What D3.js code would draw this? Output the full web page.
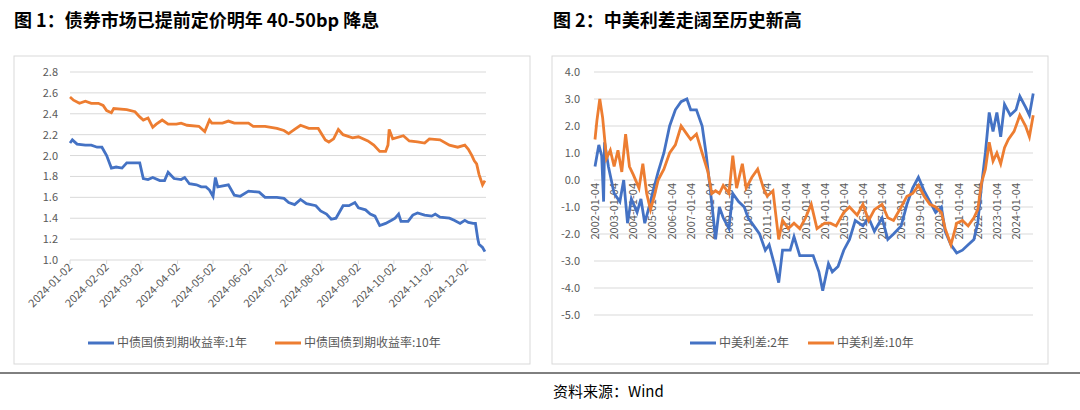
<!DOCTYPE html><html><head><meta charset="utf-8"><script src="https://cdn.jsdelivr.net/npm/d3@7"></script>
<style>body{margin:0;background:#fff}text{font-family:"Noto Sans CJK SC","Noto Sans",sans-serif}</style></head><body>
<svg id="c" width="1080" height="410"></svg>
<script>
const title1="图 1：债券市场已提前定价明年 40-50bp 降息";
const title2="图 2：中美利差走阔至历史新高";
const source="资料来源：Wind";
const leftTicks=["2024-01-02","2024-02-02","2024-03-02","2024-04-02","2024-05-02","2024-06-02","2024-07-02","2024-08-02","2024-09-02","2024-10-02","2024-11-02","2024-12-02"];
const leftY=[1.0,1.2,1.4,1.6,1.8,2.0,2.2,2.4,2.6,2.8];
const y10Dates=["01-02","01-05","01-10","01-15","01-20","01-26","01-30","02-02","02-06","02-08","02-19","02-26","03-01","03-04","03-08","03-12","03-15","03-20","03-25","04-01","04-05","04-10","04-20","04-25","04-29","05-01","05-10","05-15","05-20","06-01","06-05","06-15","06-25","07-01","07-05","07-10","07-15","07-22","07-30","08-05","08-08","08-12","08-16","08-20","08-28","09-02","09-10","09-15","09-20","09-25","09-27","09-28","10-01","10-10","10-15","10-22","10-28","11-01","11-10","11-18","11-25","12-01","12-04","12-07","12-09","12-11","12-13","12-16","12-18"];
const y10Vals=[2.56,2.53,2.50,2.52,2.50,2.50,2.48,2.43,2.41,2.45,2.44,2.42,2.37,2.34,2.36,2.27,2.30,2.34,2.30,2.30,2.31,2.29,2.28,2.23,2.34,2.31,2.31,2.33,2.31,2.31,2.28,2.28,2.26,2.24,2.21,2.25,2.29,2.26,2.26,2.15,2.13,2.16,2.25,2.20,2.17,2.18,2.14,2.10,2.04,2.04,2.10,2.25,2.16,2.19,2.14,2.13,2.12,2.16,2.15,2.10,2.08,2.10,2.06,2.00,1.95,1.92,1.82,1.72,1.76];
const y1Dates=["01-02","01-04","01-08","01-15","01-20","01-25","01-29","02-02","02-06","02-10","02-15","02-19","02-26","03-01","03-04","03-08","03-12","03-18","03-22","03-25","03-30","04-05","04-08","04-12","04-18","04-22","04-26","04-29","05-02","05-04","05-06","05-15","05-20","05-25","06-01","06-10","06-15","06-25","07-01","07-05","07-10","07-15","07-20","07-28","08-01","08-06","08-10","08-14","08-20","08-25","08-30","09-02","09-08","09-12","09-16","09-20","09-25","09-30","10-03","10-06","10-08","10-14","10-18","10-22","10-28","11-03","11-06","11-10","11-18","11-22","11-27","12-01","12-04","12-08","12-10","12-12","12-13","12-16","12-18"];
const y1Vals=[2.12,2.15,2.11,2.10,2.10,2.08,2.08,2.00,1.88,1.89,1.88,1.93,1.93,1.93,1.78,1.77,1.79,1.76,1.76,1.84,1.78,1.77,1.79,1.73,1.72,1.70,1.70,1.67,1.61,1.79,1.70,1.72,1.62,1.61,1.66,1.65,1.60,1.60,1.59,1.55,1.53,1.58,1.54,1.52,1.47,1.44,1.39,1.40,1.52,1.52,1.55,1.50,1.48,1.44,1.42,1.33,1.35,1.38,1.40,1.44,1.37,1.37,1.43,1.45,1.43,1.42,1.44,1.41,1.40,1.38,1.35,1.38,1.36,1.35,1.35,1.20,1.15,1.12,1.08];
const rightY=[-5,-4,-3,-2,-1,0,1,2,3,4];
const rightTickYears=d3.range(2002,2025);
const s2Years=[2002.0,2002.2,2002.35,2002.45,2002.5,2002.7,2003.0,2003.3,2003.5,2003.7,2003.9,2004.2,2004.4,2004.6,2004.9,2005.0,2005.3,2005.6,2005.9,2006.2,2006.5,2006.8,2007.0,2007.3,2007.6,2007.8,2008.0,2008.2,2008.3,2008.5,2008.7,2009.0,2009.2,2009.5,2009.8,2010.0,2010.3,2010.6,2010.9,2011.1,2011.4,2011.6,2011.8,2012.2,2012.4,2012.7,2013.0,2013.4,2013.7,2013.9,2014.2,2014.4,2014.7,2015.0,2015.3,2015.6,2016.0,2016.3,2016.6,2017.0,2017.3,2017.6,2018.0,2018.3,2018.6,2018.9,2019.2,2019.5,2019.8,2020.1,2020.3,2020.6,2020.9,2021.2,2021.5,2021.8,2022.0,2022.2,2022.4,2022.6,2022.8,2023.0,2023.2,2023.4,2023.7,2024.0,2024.2,2024.5,2024.7,2024.9];
const s2Vals=[0.5,1.3,0.9,-0.8,1.4,0.5,-0.5,-0.8,0,-1.6,-0.7,-1.2,-0.7,-1.6,-0.8,-0.5,0.3,1.0,2.0,2.6,2.9,3.0,2.6,2.6,2.0,1.0,-0.2,-1.5,-2.2,-1.0,-1.4,-1.8,-0.5,-0.8,-1.0,-1.4,-1.7,-2.0,-2.6,-2.4,-3.2,-3.8,-2.6,-2.6,-2.1,-2.8,-2.8,-2.8,-3.4,-4.1,-3.1,-3.4,-3.2,-2.6,-2.2,-1.5,-1.7,-1.4,-1.9,-1.4,-2.2,-2.0,-1.7,-0.9,-0.3,0.1,-0.4,-0.8,-1.2,-1.0,-1.9,-2.4,-2.7,-2.6,-2.4,-2.2,-1.6,-0.2,1.0,2.5,1.8,2.5,1.6,2.8,2.4,2.6,3.1,2.7,2.4,3.2];
const s10Years=[2002.0,2002.1,2002.25,2002.4,2002.6,2002.8,2003.0,2003.2,2003.4,2003.6,2003.8,2004.0,2004.3,2004.5,2004.7,2004.9,2005.1,2005.3,2005.6,2005.9,2006.2,2006.5,2006.8,2007.0,2007.3,2007.6,2007.9,2008.1,2008.3,2008.5,2008.7,2009.0,2009.2,2009.4,2009.7,2009.9,2010.2,2010.5,2010.8,2011.0,2011.3,2011.6,2011.8,2012.1,2012.4,2012.7,2013.0,2013.3,2013.6,2014.0,2014.3,2014.6,2015.0,2015.3,2015.7,2016.0,2016.3,2016.6,2017.0,2017.3,2017.6,2018.0,2018.3,2018.6,2018.9,2019.2,2019.5,2019.8,2020.1,2020.3,2020.6,2020.9,2021.2,2021.5,2021.8,2022.0,2022.2,2022.4,2022.6,2022.8,2023.0,2023.2,2023.4,2023.6,2023.9,2024.2,2024.5,2024.7,2024.9];
const s10Vals=[1.5,2.2,3.0,2.3,0.8,1.1,0.5,1.1,0.3,1.7,0.5,0.2,-0.3,0.6,-0.5,-1.1,-0.6,0,0.4,1.0,1.3,2.0,1.7,1.5,1.7,1.0,0.3,-0.5,-0.4,-0.5,-0.2,-0.5,0.9,-0.3,0.6,-0.3,0.1,0.4,-0.3,-0.6,-0.4,-2.2,-1.5,-1.8,-1.6,-1.8,-1.4,-0.9,-1.8,-1.6,-1.6,-1.7,-1.2,-1.0,-1.3,-0.9,-1.5,-1.1,-0.9,-1.4,-1.5,-1.0,-0.6,-0.5,-0.2,-0.6,-0.9,-1.0,-1.2,-1.8,-2.4,-1.6,-1.5,-1.7,-1.4,-1.1,-0.1,0.4,1.4,0.7,1.0,0.6,1.2,1.5,1.8,2.4,2.0,1.6,2.4];
const leg1=["中债国债到期收益率:1年","中债国债到期收益率:10年"];
const leg2=["中美利差:2年","中美利差:10年"];
const BLUE="#4472C4",ORANGE="#ED7D31",GRID="#d9d9d9",TXT="#595959";

const svg=d3.select("#c");
svg.append("text").attr("x",14).attr("y",27).attr("font-size",18).attr("font-weight","bold").attr("fill","#000").text(title1);
svg.append("text").attr("x",553).attr("y",27).attr("font-size",18).attr("font-weight","bold").attr("fill","#000").text(title2);
svg.append("rect").attr("x",14).attr("y",56).attr("width",516).attr("height",308).attr("fill","none").attr("stroke",GRID);
svg.append("rect").attr("x",552).attr("y",56).attr("width",496).attr("height",308).attr("fill","none").attr("stroke",GRID);
svg.append("line").attr("x1",0).attr("x2",1080).attr("y1",373).attr("y2",373).attr("stroke","#000").attr("stroke-width",1);
svg.append("text").attr("x",553).attr("y",397).attr("font-size",15).attr("fill","#000").text(source);

// left
const pd=d3.timeParse("%Y-%m-%d");
const xL=d3.scaleTime().domain([pd("2024-01-02"),pd("2024-12-02")]).range([70,466]);
const yL=d3.scaleLinear().domain([1.0,2.8]).range([260,72]);
const gL=svg.append("g");
gL.selectAll(".g").data(leftY).join("line").attr("x1",70).attr("x2",486).attr("y1",d=>yL(d)).attr("y2",d=>yL(d)).attr("stroke",GRID);
gL.selectAll(".yt").data(leftY).join("text").attr("x",58).attr("y",d=>yL(d)+4).attr("text-anchor","end").attr("font-size",11).attr("fill",TXT).text(d=>d.toFixed(1));
leftTicks.forEach(t=>{const x=xL(pd(t));
 gL.append("line").attr("x1",x).attr("x2",x).attr("y1",260).attr("y2",264).attr("stroke",GRID);
 gL.append("text").attr("transform",`translate(${x+3},${268}) rotate(-45)`).attr("text-anchor","end").attr("font-size",11).attr("fill",TXT).text(t);});
const lnL=d3.line().x(d=>xL(pd("2024-"+d[0]))).y(d=>yL(d[1]));
gL.append("path").datum(d3.zip(y1Dates,y1Vals)).attr("d",lnL).attr("fill","none").attr("stroke",BLUE).attr("stroke-width",2.8);
gL.append("path").datum(d3.zip(y10Dates,y10Vals)).attr("d",lnL).attr("fill","none").attr("stroke",ORANGE).attr("stroke-width",2.8);
[[88,BLUE,leg1[0]],[275,ORANGE,leg1[1]]].forEach(([x,c,t])=>{
 svg.append("line").attr("x1",x).attr("x2",x+26).attr("y1",343).attr("y2",343).attr("stroke",c).attr("stroke-width",3);
 svg.append("text").attr("x",x+29).attr("y",347).attr("font-size",12).attr("fill",TXT).text(t);});

// right
const xR=d3.scaleLinear().domain([2002,2024]).range([595,1016]);
const yR=d3.scaleLinear().domain([-5,4]).range([315,72]);
const gR=svg.append("g");
gR.selectAll(".g").data(rightY).join("line").attr("x1",594).attr("x2",1033).attr("y1",d=>yR(d)).attr("y2",d=>yR(d)).attr("stroke",GRID);
gR.selectAll(".yt").data(rightY).join("text").attr("x",580).attr("y",d=>yR(d)+4).attr("text-anchor","end").attr("font-size",11).attr("fill",TXT).text(d=>d.toFixed(1));
rightTickYears.forEach(y=>{const x=xR(y);
 gR.append("text").attr("transform",`translate(${x+4},${yR(0)+3}) rotate(-90)`).attr("text-anchor","end").attr("font-size",11).attr("fill",TXT).text(y+"-01-04");});
const lnR=d3.line().x(d=>xR(d[0])).y(d=>yR(d[1]));
gR.append("path").datum(d3.zip(s2Years,s2Vals)).attr("d",lnR).attr("fill","none").attr("stroke",BLUE).attr("stroke-width",2.8);
gR.append("path").datum(d3.zip(s10Years,s10Vals)).attr("d",lnR).attr("fill","none").attr("stroke",ORANGE).attr("stroke-width",2.8);
[[690,BLUE,leg2[0]],[808,ORANGE,leg2[1]]].forEach(([x,c,t])=>{
 svg.append("line").attr("x1",x).attr("x2",x+26).attr("y1",343).attr("y2",343).attr("stroke",c).attr("stroke-width",3);
 svg.append("text").attr("x",x+29).attr("y",347).attr("font-size",12).attr("fill",TXT).text(t);});
</script></body></html>
